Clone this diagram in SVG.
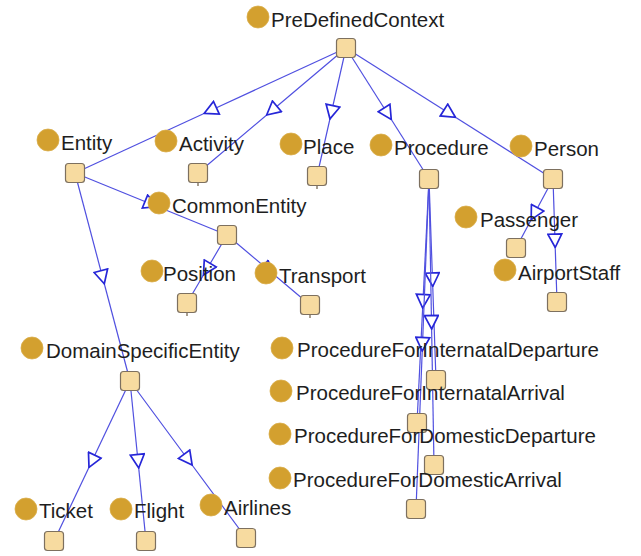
<svg xmlns="http://www.w3.org/2000/svg" width="641" height="556" viewBox="0 0 641 556">
<style>
.e{fill:none;stroke:#5050e0;stroke-width:1.2;marker-mid:url(#tri)}
.c{fill:#d3a02f;stroke:#d9ad4a;stroke-width:0.8}
.s{fill:#f7dba0;stroke:#7d705f;stroke-width:1.2}
.t{font-family:"Liberation Sans",Arial,sans-serif;font-size:20.5px;fill:#1e1e1e}
.k{stroke:#8a7d6a;stroke-width:1.5}
</style>
<defs>
<marker id="tri" viewBox="0 0 16 16" refX="8" refY="8" markerWidth="16" markerHeight="16" markerUnits="userSpaceOnUse" orient="auto">
<path d="M15,8 L1.5,1 L1.5,15 Z" fill="#fff" stroke="#2626d8" stroke-width="1.7"/>
</marker>
</defs>
<rect width="641" height="556" fill="#fff"/>
<g id="connectors">
<path class="e" d="M346,48 L210.5,110.5 L75,173"/>
<path class="e" d="M346,48 L272,110.5 L198,173"/>
<path class="e" d="M346,48 L331.5,112 L317,176"/>
<path class="e" d="M346,48 L387.5,113.5 L429,179"/>
<path class="e" d="M346,48 L449.5,113.5 L553,179"/>
<path class="e" d="M75,173 L151,204 L227,235"/>
<path class="e" d="M75,173 L102.5,277 L130,381"/>
<path class="e" d="M227,235 L207,269 L187,303"/>
<path class="e" d="M227,235 L268.5,270 L310,305"/>
<path class="e" d="M553,179 L534.5,213.5 L516,248"/>
<path class="e" d="M553,179 L555,240.5 L557,302"/>
<path class="e" d="M429,179 L432.5,279.5 L436,380"/>
<path class="e" d="M429,179 L423,301 L417,423"/>
<path class="e" d="M429,179 L431.5,322 L434,465"/>
<path class="e" d="M429,179 L422.5,344 L416,509"/>
<path class="e" d="M130,381 L92,461 L54,541"/>
<path class="e" d="M130,381 L138,461 L146,541"/>
<path class="e" d="M130,381 L188,459.5 L246,538"/>
</g>
<g id="PreDefinedContext"><circle class="c" cx="258" cy="17" r="11"/><text class="t" x="271" y="27">PreDefinedContext</text><rect class="s" x="336.5" y="38.5" width="19" height="19" rx="3"/></g>
<g id="Entity"><circle class="c" cx="48" cy="140" r="11"/><text class="t" x="61" y="150">Entity</text><rect class="s" x="65.5" y="163.5" width="19" height="19" rx="3"/></g>
<g id="Activity"><circle class="c" cx="166" cy="141" r="11"/><text class="t" x="179" y="151">Activity</text><path class="k" d="M198,183 v3"/><rect class="s" x="188.5" y="163.5" width="19" height="19" rx="3"/></g>
<g id="Place"><circle class="c" cx="291" cy="144" r="11"/><text class="t" x="303" y="154">Place</text><path class="k" d="M317,186 v3"/><rect class="s" x="307.5" y="166.5" width="19" height="19" rx="3"/></g>
<g id="Procedure"><circle class="c" cx="381" cy="145" r="11"/><text class="t" x="394" y="155">Procedure</text><rect class="s" x="419.5" y="169.5" width="19" height="19" rx="3"/></g>
<g id="Person"><circle class="c" cx="521" cy="146" r="11"/><text class="t" x="534" y="156">Person</text><rect class="s" x="543.5" y="169.5" width="19" height="19" rx="3"/></g>
<g id="CommonEntity"><circle class="c" cx="159" cy="203" r="11"/><text class="t" x="172" y="213">CommonEntity</text><rect class="s" x="217.5" y="225.5" width="19" height="19" rx="3"/></g>
<g id="Position"><circle class="c" cx="152" cy="271" r="11"/><text class="t" x="163" y="281">Position</text><path class="k" d="M187,313 v3"/><rect class="s" x="177.5" y="293.5" width="19" height="19" rx="3"/></g>
<g id="Transport"><circle class="c" cx="266" cy="273" r="11"/><text class="t" x="279" y="283">Transport</text><path class="k" d="M310,315 v3"/><rect class="s" x="300.5" y="295.5" width="19" height="19" rx="3"/></g>
<g id="Passenger"><circle class="c" cx="466" cy="217" r="11"/><text class="t" x="480" y="227">Passenger</text><rect class="s" x="506.5" y="238.5" width="19" height="19" rx="3"/></g>
<g id="AirportStaff"><circle class="c" cx="505" cy="270" r="11"/><text class="t" x="518" y="280">AirportStaff</text><rect class="s" x="547.5" y="292.5" width="19" height="19" rx="3"/></g>
<g id="DomainSpecificEntity"><circle class="c" cx="32" cy="348" r="11"/><text class="t" x="46" y="358">DomainSpecificEntity</text><rect class="s" x="120.5" y="371.5" width="19" height="19" rx="3"/></g>
<g id="ProcedureForInternatalDeparture"><circle class="c" cx="282" cy="348" r="11"/><text class="t" x="297" y="357">ProcedureForInternatalDeparture</text><rect class="s" x="426.5" y="370.5" width="19" height="19" rx="3"/></g>
<g id="ProcedureForInternatalArrival"><circle class="c" cx="281" cy="391" r="11"/><text class="t" x="296" y="400">ProcedureForInternatalArrival</text><rect class="s" x="407.5" y="413.5" width="19" height="19" rx="3"/></g>
<g id="ProcedureForDomesticDeparture"><circle class="c" cx="280" cy="434" r="11"/><text class="t" x="294" y="443">ProcedureForDomesticDeparture</text><rect class="s" x="424.5" y="455.5" width="19" height="19" rx="3"/></g>
<g id="ProcedureForDomesticArrival"><circle class="c" cx="280" cy="478" r="11"/><text class="t" x="293" y="487">ProcedureForDomesticArrival</text><rect class="s" x="406.5" y="499.5" width="19" height="19" rx="3"/></g>
<g id="Ticket"><circle class="c" cx="26" cy="509" r="11"/><text class="t" x="39" y="518">Ticket</text><rect class="s" x="44.5" y="531.5" width="19" height="19" rx="3"/></g>
<g id="Flight"><circle class="c" cx="121" cy="509" r="11"/><text class="t" x="134" y="518">Flight</text><rect class="s" x="136.5" y="531.5" width="19" height="19" rx="3"/></g>
<g id="Airlines"><circle class="c" cx="211" cy="505" r="11"/><text class="t" x="224" y="515">Airlines</text><rect class="s" x="236.5" y="528.5" width="19" height="19" rx="3"/></g>
</svg>
